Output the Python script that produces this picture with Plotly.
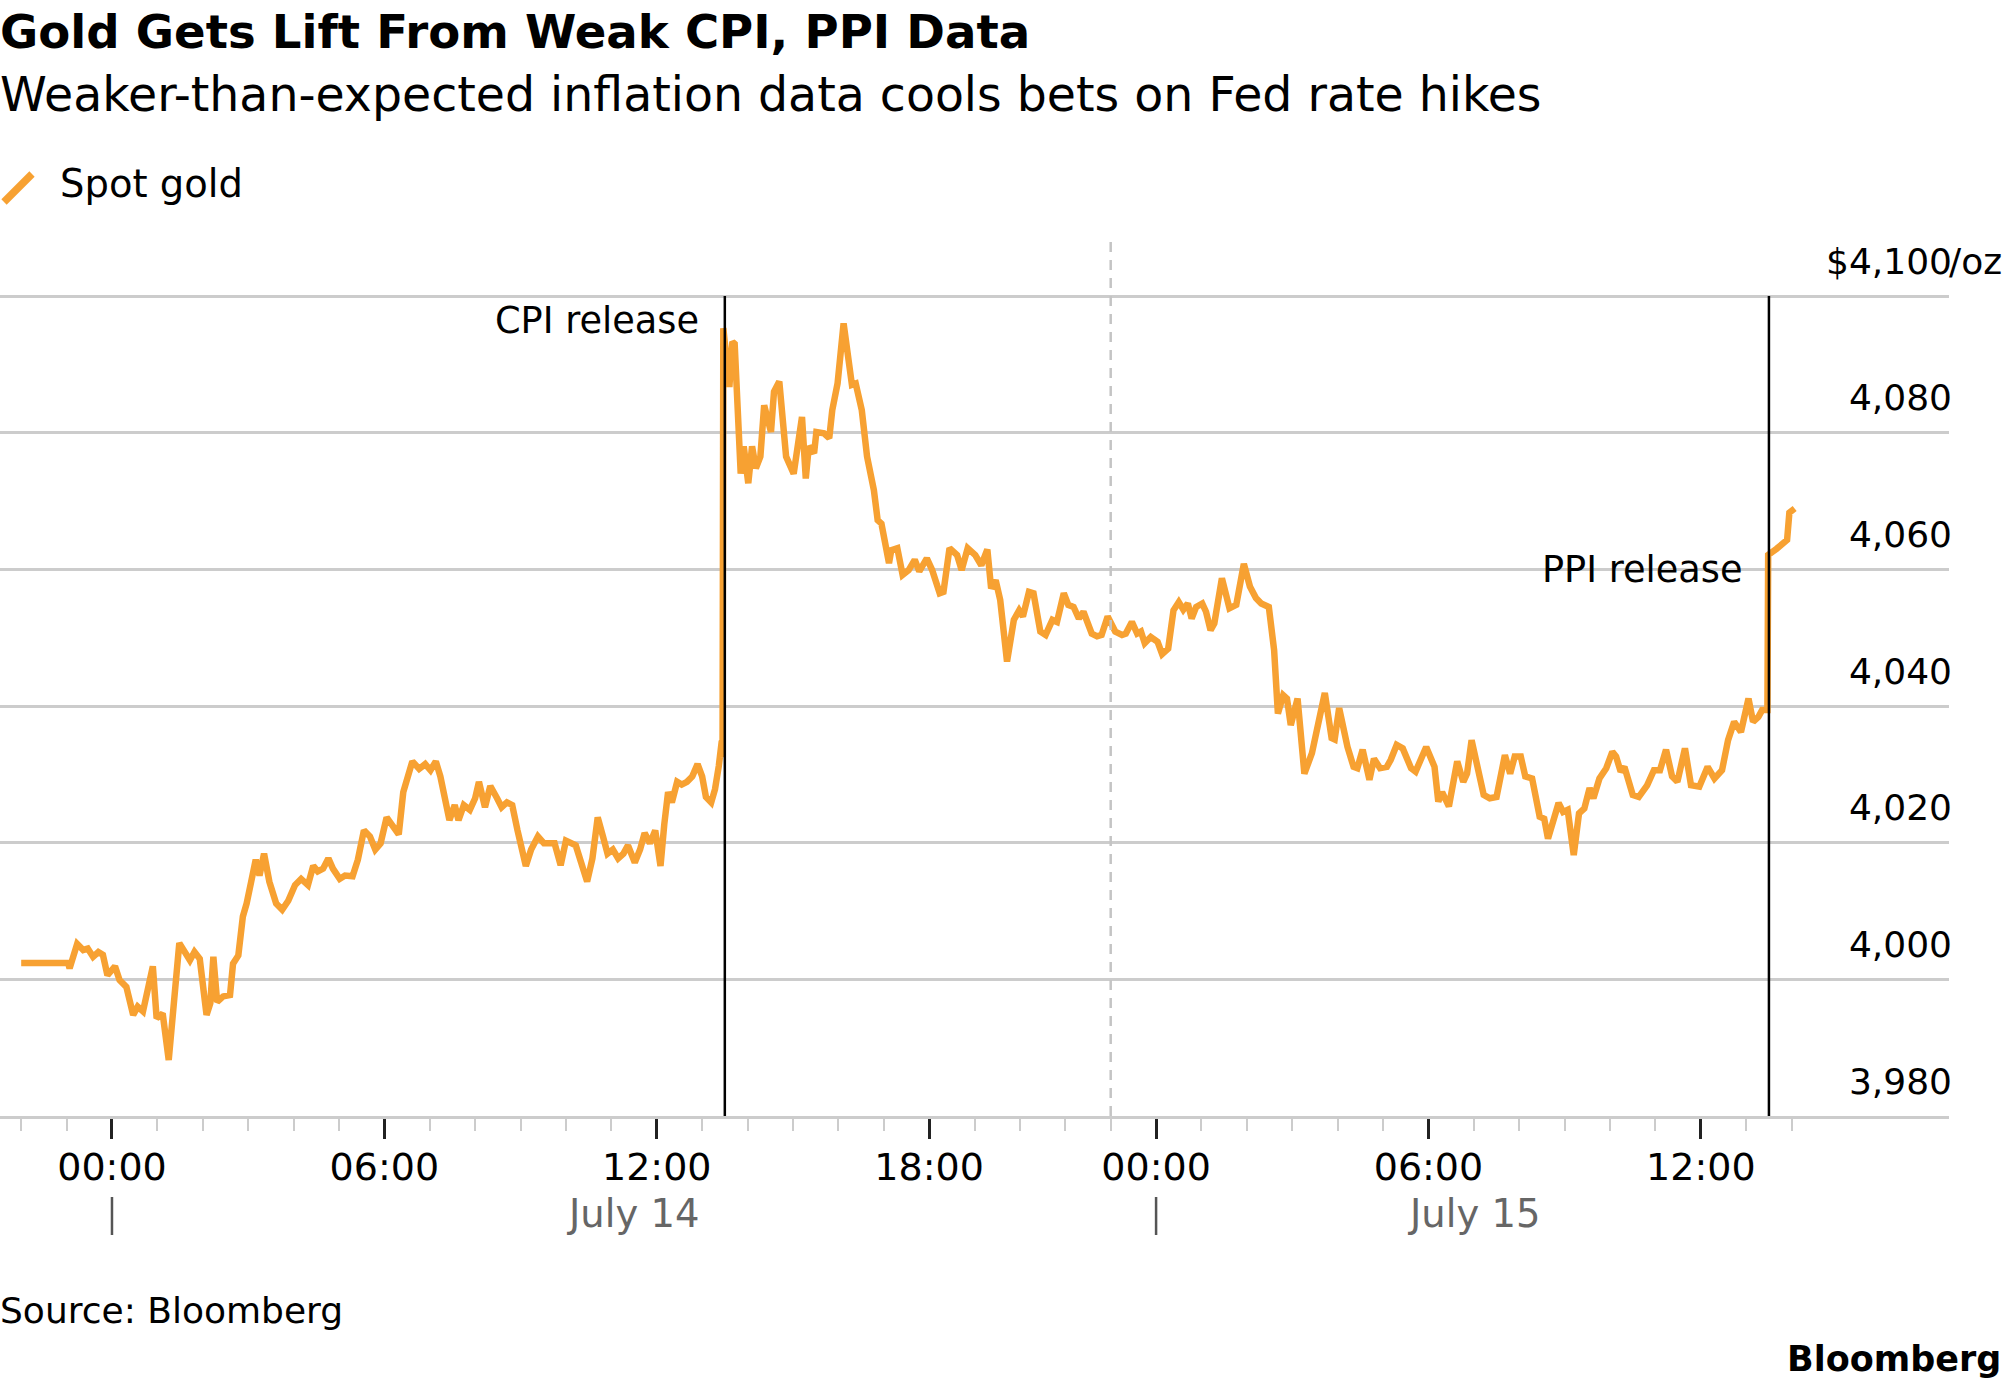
import pandas as pd
import plotly.graph_objects as go

# Spot gold (London time)
jul13_times = ["21:00", "23:02", "23:04", "23:14", "23:22", "23:28", "23:35", "23:42", "23:48", "23:54"]
jul13_prices = [4002.4, 4002.4, 4001.6, 4005.2, 4004.3, 4004.5, 4003.3, 4004.0, 4003.6, 4000.6]

jul14_times = [
    "00:04", "00:10", "00:19", "00:28", "00:34", "00:41", "00:54", "00:59", "01:07", "01:15",
    "01:29", "01:43", "01:49", "01:56", "02:05", "02:10", "02:14", "02:19", "02:27", "02:36",
    "02:40", "02:47", "02:53", "02:58", "03:04", "03:10", "03:15", "03:21", "03:28", "03:37",
    "03:45", "03:53", "04:02", "04:10", "04:19", "04:26", "04:32", "04:39", "04:46", "04:52",
    "05:01", "05:08", "05:18", "05:25", "05:33", "05:41", "05:48", "05:55", "06:03", "06:10",
    "06:19", "06:25", "06:32", "06:37", "06:46", "06:54", "07:01", "07:08", "07:14", "07:21",
    "07:26", "07:33", "07:38", "07:45", "07:53", "08:00", "08:05", "08:13", "08:20", "08:29",
    "08:35", "08:42", "08:49", "08:56", "09:02", "09:07", "09:14", "09:23", "09:31", "09:45",
    "09:53", "10:00", "10:13", "10:20", "10:28", "10:35", "10:42", "10:49", "10:55", "11:02",
    "11:09", "11:16", "11:22", "11:31", "11:38", "11:44", "11:51", "11:58", "12:05", "12:10",
    "12:15", "12:20", "12:27", "12:33", "12:40", "12:47", "12:54", "13:00", "13:05", "13:12",
    "13:17", "13:22", "13:26", "13:27", "13:28", "13:36", "13:40", "13:43", "13:51", "13:55",
    "14:01", "14:06", "14:11", "14:17", "14:22", "14:31", "14:35", "14:42", "14:51", "15:01",
    "15:12", "15:17", "15:21", "15:28", "15:31", "15:41", "15:48", "15:52", "15:59", "16:07",
    "16:13", "16:18", "16:23", "16:31", "16:38", "16:47", "16:52", "16:57", "17:07", "17:10",
    "17:18", "17:25", "17:33", "17:41", "17:47", "17:57", "18:04", "18:14", "18:19", "18:27",
    "18:37", "18:43", "18:51", "19:01", "19:09", "19:17", "19:22", "19:28", "19:34", "19:43",
    "19:52", "19:59", "20:04", "20:12", "20:18", "20:27", "20:34", "20:43", "20:49", "20:58",
    "21:04", "21:11", "21:18", "21:24", "21:35", "21:42", "21:48", "21:56", "23:06", "23:15",
    "23:20", "23:28", "23:35", "23:40", "23:45", "23:53",
]
jul14_prices = [
    4001.9, 3999.9, 3998.9, 3994.8, 3996.0, 3995.3, 4001.9, 3994.3, 3995.0, 3988.2,
    4005.3, 4002.8, 4004.0, 4003.0, 3994.8, 3996.5, 4003.3, 3996.7, 3997.5, 3997.7,
    4002.3, 4003.5, 4009.2, 4011.1, 4014.3, 4017.5, 4015.2, 4018.4, 4014.3, 4011.1,
    4010.2, 4011.5, 4013.8, 4014.7, 4013.8, 4016.6, 4015.8, 4016.2, 4017.7, 4016.2,
    4014.7, 4015.2, 4015.1, 4017.5, 4021.8, 4020.9, 4019.0, 4019.9, 4023.7, 4022.7,
    4021.2, 4027.4, 4029.7, 4031.9, 4030.8, 4031.5, 4030.6, 4031.9, 4029.7, 4026.5,
    4023.3, 4025.5, 4023.3, 4025.5, 4024.8, 4026.5, 4028.9, 4025.2, 4028.3, 4026.5,
    4025.2, 4025.9, 4025.5, 4021.8, 4019.0, 4016.6, 4019.0, 4020.9, 4019.9, 4019.9,
    4016.7, 4020.3, 4019.6, 4017.1, 4014.3, 4017.7, 4023.7, 4020.9, 4018.4, 4019.0,
    4017.7, 4018.4, 4019.6, 4017.1, 4019.0, 4021.4, 4019.9, 4021.8, 4016.6, 4022.7,
    4027.4, 4025.9, 4028.9, 4028.5, 4028.9, 4029.7, 4031.5, 4029.7, 4026.7, 4025.9,
    4027.8, 4031.2, 4034.9, 4032.5, 4095.3, 4086.7, 4093.3, 4093.0, 4074.0, 4078.0,
    4072.6, 4078.0, 4074.8, 4076.5, 4084.0, 4080.1, 4086.0, 4087.5, 4076.5, 4074.0,
    4082.3, 4073.3, 4078.0, 4077.0, 4080.1, 4079.9, 4079.2, 4083.3, 4087.2, 4096.0,
    4090.6, 4087.0, 4087.2, 4083.3, 4076.5, 4071.6, 4067.2, 4066.7, 4060.9, 4062.8,
    4063.1, 4059.2, 4059.9, 4061.4, 4059.7, 4061.6, 4059.9, 4056.5, 4056.7, 4063.1,
    4062.1, 4059.9, 4063.1, 4062.1, 4060.6, 4062.9, 4057.2, 4058.4, 4055.5, 4046.5,
    4052.6, 4054.0, 4053.1, 4056.7, 4056.5, 4050.9, 4050.4, 4052.6, 4052.3, 4056.5,
    4054.8, 4054.5, 4052.8, 4053.8, 4050.6, 4050.2, 4050.4, 4053.1, 4050.9, 4050.4,
    4050.6, 4052.3, 4050.6, 4050.9, 4049.2, 4050.1,
]

jul15_times = [
    "00:02", "00:08", "00:16", "00:23", "00:30", "00:36", "00:42", "00:47", "00:53", "01:01",
    "01:06", "01:12", "01:17", "01:27", "01:37", "01:46", "01:56", "02:04", "02:12", "02:19",
    "02:29", "02:36", "02:41", "02:48", "02:53", "02:58", "03:07", "03:16", "03:26", "03:43",
    "03:52", "03:56", "04:02", "04:13", "04:21", "04:26", "04:33", "04:42", "04:48", "04:56",
    "05:05", "05:10", "05:18", "05:26", "05:37", "05:43", "05:57", "06:08", "06:13", "06:18",
    "06:27", "06:38", "06:46", "06:51", "06:57", "07:05", "07:13", "07:21", "07:30", "07:41",
    "07:48", "07:54", "08:02", "08:08", "08:17", "08:27", "08:33", "08:38", "08:52", "08:58",
    "09:04", "09:12", "09:19", "09:26", "09:33", "09:38", "09:46", "09:55", "10:03", "10:08",
    "10:14", "10:19", "10:30", "10:38", "10:49", "10:58", "11:06", "11:14", "11:22", "11:29",
    "11:39", "11:47", "11:58", "12:09", "12:18", "12:28", "12:36", "12:44", "12:53", "13:03",
    "13:09", "13:16", "13:21", "13:28", "13:29", "13:40", "13:50", "13:54", "13:57", "14:04",
]
jul15_prices = [
    4049.4, 4047.6, 4048.4, 4054.0, 4055.2, 4054.1, 4055.0, 4052.8, 4054.5, 4055.0,
    4053.8, 4051.1, 4052.1, 4058.7, 4054.3, 4054.8, 4060.8, 4057.5, 4055.8, 4055.0,
    4054.5, 4048.2, 4038.9, 4041.6, 4041.1, 4037.2, 4041.1, 4030.1, 4033.1, 4041.9,
    4035.3, 4035.1, 4039.7, 4034.0, 4031.1, 4030.9, 4033.6, 4029.2, 4032.3, 4030.9,
    4031.1, 4032.1, 4034.3, 4033.8, 4030.9, 4030.4, 4034.0, 4031.1, 4026.0, 4027.4,
    4025.3, 4031.9, 4028.9, 4030.1, 4035.0, 4030.4, 4027.0, 4026.5, 4026.7, 4032.8,
    4030.1, 4032.6, 4032.6, 4029.7, 4029.4, 4023.8, 4023.5, 4020.6, 4025.8, 4024.5,
    4024.8, 4018.2, 4024.3, 4025.0, 4028.0, 4026.5, 4029.4, 4030.9, 4033.3, 4032.6,
    4030.4, 4031.1, 4027.0, 4026.7, 4028.4, 4030.6, 4030.6, 4033.6, 4029.7, 4028.9,
    4033.8, 4028.4, 4028.2, 4031.1, 4029.4, 4030.6, 4035.0, 4037.7, 4036.2, 4041.1,
    4037.7, 4038.4, 4039.4, 4039.4, 4062.1, 4063.0, 4064.0, 4064.3, 4068.3, 4068.9,
]

events = ["CPI release", "PPI release"]
event_times = ["2025-07-14 13:30", "2025-07-15 13:30"]
event_label_prices = [4100, 4060]
session_break = "2025-07-14 22:00"

y_ticks = [3980, 4000, 4020, 4040, 4060, 4080, 4100]
y_labels = ["3,980", "4,000", "4,020", "4,040", "4,060", "4,080", "$4,100"]
x_ticks = ["2025-07-14 00:00", "2025-07-14 06:00", "2025-07-14 12:00", "2025-07-14 18:00",
           "2025-07-15 00:00", "2025-07-15 06:00", "2025-07-15 12:00"]
x_labels = ["00:00", "06:00", "12:00", "18:00", "00:00", "06:00", "12:00"]
days = ["July 14", "July 15"]
day_starts = ["2025-07-14 00:00", "2025-07-15 00:00"]
day_label_at = ["2025-07-14 11:28", "2025-07-15 07:00"]

times = (["2025-07-13 " + t for t in jul13_times]
         + ["2025-07-14 " + t for t in jul14_times]
         + ["2025-07-15 " + t for t in jul15_times])
prices = jul13_prices + jul14_prices + jul15_prices
hours = [str(t) for t in pd.date_range("2025-07-13 21:00", "2025-07-15 14:00", freq="h")]

FONT = "DejaVu Sans"
GOLD = "#F7A132"
GRID = "#cccccc"

fig = go.Figure(go.Scatter(x=pd.to_datetime(times), y=prices, mode="lines",
                           line=dict(color=GOLD, width=6.5), hoverinfo="x+y"))

# plot area: x 0..1949, y 240..1116 px
H = 876
def py(px):
    return (1116 - px) / H

fig.update_layout(
    width=2005, height=1392,
    margin=dict(l=0, r=56, t=240, b=276),
    paper_bgcolor="white", plot_bgcolor="white",
    showlegend=False,
    font=dict(family=FONT, color="black"),
    xaxis=dict(
        range=["2025-07-13 20:32", "2025-07-15 17:28"],
        rangebreaks=[dict(bounds=[22, 23], pattern="hour")],
        tickmode="array", tickvals=x_ticks, ticktext=x_labels,
        ticks="outside", ticklen=20, tickwidth=2.5, tickcolor="#222222",
        tickfont=dict(size=38, color="black"),
        ticklabelstandoff=-4,
        minor=dict(tickmode="array", tickvals=hours, ticks="outside",
                   ticklen=12, tickwidth=2, tickcolor=GRID, showgrid=False),
        showgrid=False, zeroline=False,
        showline=True, linecolor=GRID, linewidth=2.5,
    ),
    yaxis=dict(
        range=[3980, 4108.2],
        tickmode="array", tickvals=y_ticks, ticktext=y_labels,
        side="right", ticklabelposition="inside", ticks="",
        ticklabelshift=-35, ticklabelstandoff=-6,
        tickfont=dict(size=36, color="black"),
        showgrid=True, gridcolor=GRID, gridwidth=2.5,
        zeroline=False, showline=False,
    ),
)

# session break
fig.add_shape(type="line", xref="x", yref="paper", x0=session_break, x1=session_break,
              y0=0, y1=1, line=dict(color="#c4c4c4", width=2.5, dash="10px,8px"))

for name, t, p in zip(events, event_times, event_label_prices):
    fig.add_shape(type="line", xref="x", yref="y", x0=t, x1=t, y0=y_ticks[0], y1=y_ticks[-1],
                  line=dict(color="black", width=2.5))
    fig.add_annotation(x=t, y=p, xref="x", yref="y", text=name, showarrow=False,
                       xanchor="right", yanchor="middle", xshift=-24,
                       yshift=-24.5 if p == y_ticks[-1] else 0,
                       font=dict(size=36.7, color="black"))

fig.add_annotation(x=1, y=y_ticks[-1], xref="paper", yref="y", text="/oz", showarrow=False,
                   xanchor="left", yanchor="middle", yshift=34.5, xshift=-2,
                   font=dict(size=36, color="black"))

for d, start, mid in zip(days, day_starts, day_label_at):
    fig.add_shape(type="line", xref="x", yref="paper", x0=start, x1=start,
                  y0=py(1197), y1=py(1235), line=dict(color="#555555", width=2.5))
    fig.add_annotation(x=mid, y=py(1213), xref="x", yref="paper", text=d, showarrow=False,
                       xanchor="center", yanchor="middle", font=dict(size=38.5, color="#666666"))

# legend
fig.add_shape(type="line", xref="paper", yref="paper", x0=4 / 1949, x1=32 / 1949,
              y0=py(202), y1=py(174), line=dict(color=GOLD, width=7.5))
fig.add_annotation(x=58 / 1949, y=py(183.5), xref="paper", yref="paper", text="Spot gold",
                   showarrow=False, xanchor="left", yanchor="middle", font=dict(size=38.5))

fig.add_annotation(x=0, y=py(32), xref="paper", yref="paper",
                   text="<b>Gold Gets Lift From Weak CPI, PPI Data</b>", showarrow=False,
                   xanchor="left", yanchor="middle", xshift=-2, font=dict(size=46.6))
fig.add_annotation(x=0, y=py(94.5), xref="paper", yref="paper",
                   text="Weaker-than-expected inflation data cools bets on Fed rate hikes",
                   showarrow=False, xanchor="left", yanchor="middle", xshift=-2,
                   font=dict(size=47.4))
fig.add_annotation(x=0, y=py(1310), xref="paper", yref="paper", text="Source: Bloomberg",
                   showarrow=False, xanchor="left", yanchor="middle", xshift=-2,
                   font=dict(size=36))
fig.add_annotation(x=2003 / 1949, y=py(1359), xref="paper", yref="paper",
                   text="<b>Bloomberg</b>", showarrow=False, xanchor="right",
                   yanchor="middle", font=dict(size=35))

# the page body has a default 8px margin; drop it so the figure sits at 0,0
fig.write_html("out.html", config={"displayModeBar": False},
               post_script="document.body.style.margin='0';")
